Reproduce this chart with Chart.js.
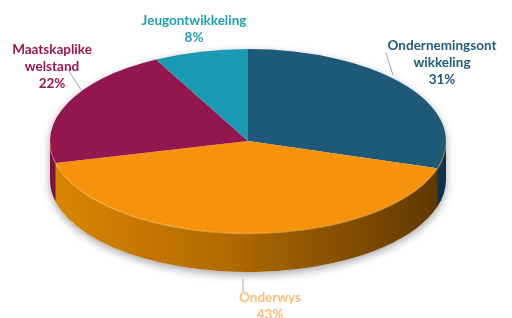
<!DOCTYPE html>
<html><head><meta charset="utf-8">
<script src="https://cdn.jsdelivr.net/npm/chart.js@4/dist/chart.umd.min.js"></script>
<style>html,body{margin:0;padding:0;background:#fff;}#wrap{width:512px;height:318px;position:relative;}</style>
</head><body><div id="wrap"><canvas id="c" width="512" height="318"></canvas></div>
<script>
// ---- data ----
const categories = ['Ondernemingsontwikkeling', 'Onderwys', 'Maatskaplike welstand', 'Jeugontwikkeling'];
const values = [31, 43, 22, 8];
const labelLines = [['Ondernemingsont', 'wikkeling', '31%'], ['Onderwys', '43%'], ['Maatskaplike', 'welstand', '22%'], ['Jeugontwikkeling', '8%']];

// ---- styling / layout ----
const topColors = ['#1E5A78', '#F7930B', '#94164E', '#1A99B3'];
const sideLight = ['#1A4E68', '#DA8600', '#7A1240', '#15809A'];
const sideDark = ['#0F3346', '#5C3600', '#5A0C2E', '#0F5C70'];
const labelColors = ['#1F5A7A', '#F9BD76', '#96184F', '#21A0AC'];
const labelPos = [[442, 46], [270, 298], [52, 50], [194, 21]];
const leaders = [[[386, 53], [393, 75]], [[243, 279], [243, 292]], [[67, 68], [81, 90]], null];
const CX = 248, CY = 141, RX = 198, RY = 92, DEPTH = 39, LINE_H = 17;

const pie3d = {
  id: 'pie3d',
  beforeDatasetsDraw(chart) {
    const ctx = chart.ctx;
    const arcs = chart.getDatasetMeta(0).data;
    // shadow silhouette
    ctx.save();
    ctx.beginPath();
    ctx.ellipse(CX, CY, RX, RY, 0, 0, Math.PI, true);
    ctx.ellipse(CX, CY + DEPTH, RX, RY, 0, Math.PI, 0, true);
    ctx.closePath();
    ctx.shadowColor = 'rgba(0,0,0,0.35)';
    ctx.shadowBlur = 9;
    ctx.shadowOffsetY = 3;
    ctx.fillStyle = '#ffffff';
    ctx.fill();
    ctx.restore();
    // side walls
    arcs.forEach((a, i) => {
      const s = Math.max(a.startAngle, 0), e = Math.min(a.endAngle, Math.PI);
      if (e <= s) return;
      ctx.save();
      const g = ctx.createLinearGradient(CX - RX, 0, CX + RX, 0);
      g.addColorStop(0, sideLight[i]);
      g.addColorStop(0.45, i === 1 ? '#B06A00' : sideLight[i]);
      g.addColorStop(1, sideDark[i]);
      ctx.beginPath();
      ctx.ellipse(CX, CY, RX, RY, 0, s, e, false);
      ctx.ellipse(CX, CY + DEPTH, RX, RY, 0, e, s, true);
      ctx.closePath();
      ctx.fillStyle = g;
      ctx.fill();
      ctx.restore();
    });
    // front rim highlight
    ctx.save();
    ctx.beginPath();
    ctx.ellipse(CX, CY + 0.5, RX, RY, 0, 0.05, Math.PI - 0.02, false);
    ctx.strokeStyle = 'rgba(255,190,90,0.55)';
    ctx.lineWidth = 1.5;
    ctx.stroke();
    ctx.restore();
    // squash the top face
    const a0 = arcs[0];
    const R = a0.outerRadius;
    ctx.save();
    ctx.translate(CX, CY);
    ctx.scale(RX / R, RY / R);
    ctx.translate(-a0.x, -a0.y);
  },
  afterDatasetsDraw(chart) {
    const ctx = chart.ctx;
    ctx.restore();
    ctx.save();
    ctx.strokeStyle = '#A6A6A6';
    ctx.lineWidth = 1;
    leaders.forEach(l => {
      if (!l) return;
      ctx.beginPath();
      ctx.moveTo(l[0][0], l[0][1]);
      ctx.lineTo(l[1][0], l[1][1]);
      ctx.stroke();
    });
    ctx.font = 'bold 13.5px Lato, "Open Sans", sans-serif';
    ctx.textAlign = 'center';
    ctx.textBaseline = 'middle';
    labelLines.forEach((lines, i) => {
      ctx.fillStyle = labelColors[i];
      lines.forEach((t, j) => ctx.fillText(t, labelPos[i][0], labelPos[i][1] + j * LINE_H));
    });
    ctx.restore();
  }
};

new Chart(document.getElementById('c'), {
  type: 'pie',
  data: {
    labels: categories,
    datasets: [{ data: values, backgroundColor: topColors, borderWidth: 0, clip: false }]
  },
  options: {
    responsive: false,
    animation: false,
    layout: { padding: 0 },
    plugins: { legend: { display: false }, tooltip: { enabled: false } }
  },
  plugins: [pie3d]
});
</script></body></html>
